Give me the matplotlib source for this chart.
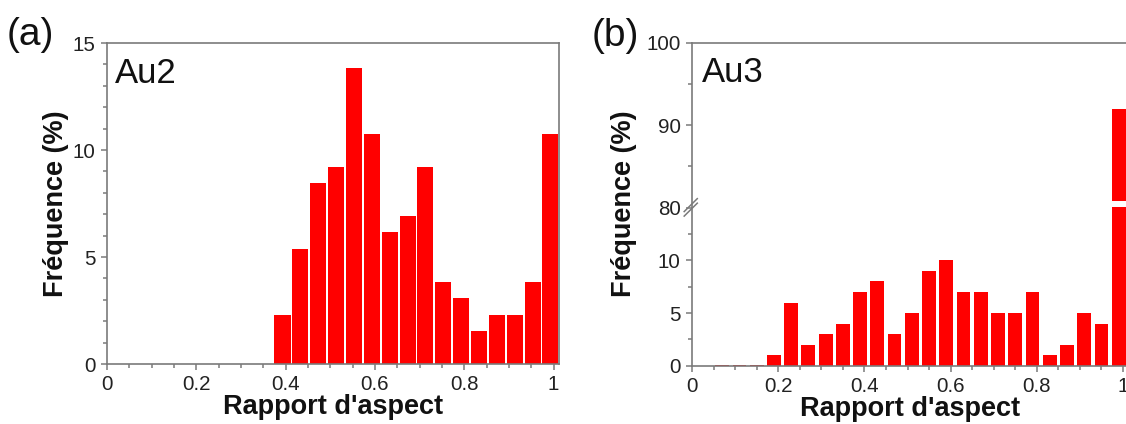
import numpy as np
import matplotlib
matplotlib.use('Agg')
import matplotlib.pyplot as plt
from matplotlib.ticker import FixedLocator, NullFormatter

plt.rcParams['font.family'] = ['Liberation Sans', 'DejaVu Sans']

# Data
au2_x = [0.393, 0.433, 0.473, 0.513, 0.553, 0.593, 0.633, 0.673,
         0.713, 0.753, 0.793, 0.833, 0.873, 0.913, 0.953, 0.993]
au2_freq = [2.31, 5.38, 8.46, 9.23, 13.85, 10.77, 6.15, 6.92,
            9.23, 3.85, 3.08, 1.54, 2.31, 2.31, 3.85, 10.77]

au3_x = [0.07, 0.11, 0.15, 0.19, 0.23, 0.27, 0.31, 0.35, 0.39, 0.43, 0.47,
         0.51, 0.55, 0.59, 0.63, 0.67, 0.71, 0.75, 0.79, 0.83, 0.87,
         0.91, 0.95, 0.99]
au3_freq = [0.1, 0.1, 0.1, 1, 6, 2, 3, 4, 7, 8, 3,
            5, 9, 10, 7, 7, 5, 5, 7, 1, 2,
            5, 4, 92]

x_ticks = [0, 0.2, 0.4, 0.6, 0.8, 1.0]
x_ticklabels = ['0', '0.2', '0.4', '0.6', '0.8', '1']

RED = '#ff0000'
GREY = '#7a7a7a'
TXT = '#222222'

# broken y axis for panel (b): 0-15 then 80-100 (compressed)
R = 0.784
EPS = 1e-4
T80 = 15 + 65 * EPS


def fwd(y):
    y = np.asarray(y, dtype=float)
    return np.where(y <= 15, y,
                    np.where(y < 80, 15 + (y - 15) * EPS, T80 + (y - 80) * R))


def inv(t):
    t = np.asarray(t, dtype=float)
    return np.where(t <= 15, t,
                    np.where(t < T80, 15 + (t - 15) / EPS, 80 + (t - T80) / R))


fig = plt.figure(figsize=(11.26, 4.24), dpi=100)
ax1 = fig.add_axes([0.0950, 0.1415, 0.4014, 0.757])
ax2 = fig.add_axes([0.6146, 0.1375, 0.3873, 0.762])


def style(ax):
    for s in ax.spines.values():
        s.set_color(GREY)
        s.set_linewidth(1.2)
    ax.tick_params(which='both', direction='out', color=GREY, width=1.1,
                   labelcolor=TXT, labelsize=14.8, pad=3.6)
    ax.tick_params(which='major', length=4.5)
    ax.tick_params(which='minor', length=2.6)
    ax.set_xlim(0, 1.012)
    ax.set_xticks(x_ticks, x_ticklabels)
    ax.xaxis.set_minor_locator(FixedLocator(np.arange(0.05, 1.01, 0.05)))
    ax.set_xlabel("Rapport d'aspect", fontsize=19.5, fontweight='bold', color='#111111')
    ax.set_ylabel('Fréquence (%)', fontsize=19.5, fontweight='bold', color='#111111')
    ax.xaxis.set_label_coords(0.5, -0.095)


# (a) Au2
ax1.bar(au2_x, au2_freq, width=0.036, color=RED, linewidth=0, zorder=2)
style(ax1)
ax1.set_ylim(0, 15)
ax1.set_yticks([0, 5, 10, 15], ['0', '5', '10', '15'])
ax1.yaxis.set_minor_locator(FixedLocator([1, 2, 3, 4, 6, 7, 8, 9, 11, 12, 13, 14]))
ax1.yaxis.set_label_coords(-0.084, 0.5)
ax1.text(0.018, 0.874, 'Au2', transform=ax1.transAxes, fontsize=25, va='baseline', color='#111111')

# (b) Au3
ax2.set_yscale('function', functions=(fwd, inv))
ax2.bar(au3_x, au3_freq, width=0.032, color=RED, linewidth=0, zorder=2)
style(ax2)
ax2.set_ylim(0, 100)
ax2.set_yticks([0, 5, 10, 80, 90, 100], ['0', '5', '10', '80', '90', '100'])
ax2.yaxis.set_minor_locator(FixedLocator([2.5, 7.5, 12.5, 85, 95]))
ax2.yaxis.set_minor_formatter(NullFormatter())
ax2.yaxis.set_label_coords(-0.126, 0.5)
ax2.text(0.022, 0.879, 'Au3', transform=ax2.transAxes, fontsize=25, va='baseline', color='#111111')
# white gap across the tall bar
ax2.fill_between([0.96, 1.03], 80.05, 80.8, color='white', zorder=3, linewidth=0)
# break marks on the left spine
yb = fwd(80) / fwd(100)
for dy in (-0.006, 0.008):
    ax2.plot([-0.018, 0.012], [yb + dy - 0.02, yb + dy + 0.02], transform=ax2.transAxes,
             color=GREY, lw=1.1, clip_on=False, zorder=5)

fig.text(0.006, 0.918, '(a)', fontsize=28, va='center', color='#111111')
fig.text(0.525, 0.916, '(b)', fontsize=28, va='center', color='#111111')

fig.savefig('out.png', dpi=100, facecolor='white')
